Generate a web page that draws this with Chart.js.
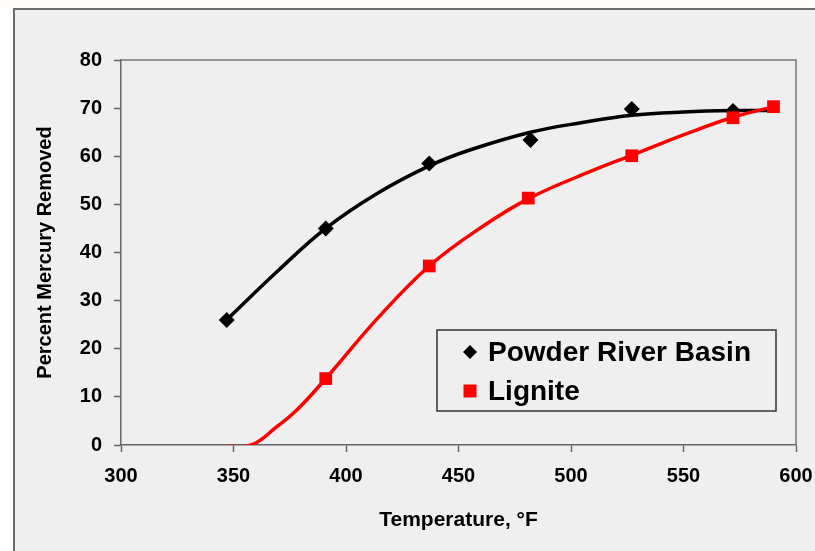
<!DOCTYPE html>
<html>
<head>
<meta charset="utf-8">
<script src="https://cdn.jsdelivr.net/npm/chart.js@4.4.0/dist/chart.umd.min.js"></script>
<style>
  html, body { margin: 0; padding: 0; background: #fffdfb; overflow: hidden; }
  #frame {
    position: absolute; left: 13px; top: 8px; width: 820px; height: 560px;
    background: #efefef; border-left: 2px solid #6b6b6b; border-top: 2px solid #6b6b6b;
  }
  #wrap { position: absolute; left: 0; top: 0; width: 815px; height: 551px; }
</style>
</head>
<body>
<div id="frame"></div>
<div id="wrap"><canvas id="myChart" width="815" height="551"></canvas></div>
<script>
// Powder River Basin measured points
const prbTemp = [347, 391, 437, 482, 527, 572];
const prbRemoval = [26, 45, 58.5, 63.4, 69.8, 69.4];

// Powder River Basin trend line
const trendTemp = [347, 370, 391, 414, 437, 455, 482, 505, 527, 550, 572, 590];
const trendRemoval = [26, 36.3, 45, 52.3, 58, 61.3, 65, 67, 68.5, 69.2, 69.5, 69.5];

// Lignite points (first one sits just under the axis)
const ligniteTemp = [347, 391, 437, 481, 527, 572, 590];
const ligniteRemoval = [-1.5, 13.8, 37.2, 51.3, 60.1, 68.0, 70.3];

// Lignite smoothed line
const ligCurveTemp = [347, 358, 369, 378, 391, 414, 437, 460, 482, 510, 527, 552, 572, 590];
const ligCurveRemoval = [-0.3, 0, 3.7, 7.2, 13.8, 26.3, 37.2, 45.2, 51.4, 57.1, 60.2, 64.8, 68.1, 70.3];

const xTicks = [300, 350, 400, 450, 500, 550, 600];
const yTicks = [0, 10, 20, 30, 40, 50, 60, 70, 80];

const FONT = '"Liberation Sans", Arial, sans-serif';

function toPoints(xs, ys){
    return xs.map((x, i) => ({x: x, y: ys[i]}));
}

// box around the plot (top + right sides)
const plotBox = {
    id: 'plotBox',
    beforeDatasetsDraw(chart){
        const a = chart.chartArea;
        const ctx = chart.ctx;
        ctx.save();
        ctx.strokeStyle = '#777';
        ctx.lineWidth = 1.5;
        ctx.beginPath();
        ctx.moveTo(a.left, a.top);
        ctx.lineTo(a.right, a.top);
        ctx.lineTo(a.right, a.bottom);
        ctx.stroke();
        ctx.restore();
    }
};

// legend drawn inside the plot, boxed
const boxLegend = {
    id: 'boxLegend',
    afterDraw(chart){
        const a = chart.chartArea;
        const ctx = chart.ctx;
        const left = a.left + 316, top = a.top + 270, w = 339, h = 81;
        ctx.save();
        ctx.strokeStyle = '#333';
        ctx.lineWidth = 1.5;
        ctx.strokeRect(left, top, w, h);
        const items = chart.data.datasets.filter(d => d.legendPos != null)
            .sort((p, q) => p.legendPos - q.legendPos);
        items.forEach((d, i) => {
            const cy = top + 22 + i * 39;
            const cx = left + 33;
            ctx.fillStyle = d.backgroundColor;
            ctx.beginPath();
            if (d.pointStyle == 'rectRot'){
                ctx.moveTo(cx - 7, cy);
                ctx.lineTo(cx, cy - 7);
                ctx.lineTo(cx + 7, cy);
                ctx.lineTo(cx, cy + 7);
                ctx.closePath();
            } else {
                ctx.rect(cx - 6.5, cy - 6.5, 13, 13);
            }
            ctx.fill();
            ctx.fillStyle = '#000';
            ctx.font = 'bold 28px ' + FONT;
            ctx.textBaseline = 'middle';
            ctx.textAlign = 'left';
            ctx.fillText(d.label, left + 51, cy + 1);
        });
        ctx.restore();
    }
};

const config = {
    type: 'scatter',
    data: {
        datasets: [
            {
                label: 'Lignite',
                legendPos: 1,
                data: toPoints(ligniteTemp, ligniteRemoval),
                showLine: false,
                backgroundColor: '#ff0000',
                borderColor: '#ff0000',
                pointStyle: 'rect',
                pointRadius: 9,
                pointBorderWidth: 0,
                clip: 0,
                order: 0
            },
            {
                label: 'Lignite curve',
                data: toPoints(ligCurveTemp, ligCurveRemoval),
                showLine: true,
                tension: 0.4,
                borderColor: '#ff0000',
                backgroundColor: '#ff0000',
                borderWidth: 3.5,
                pointRadius: 0,
                clip: 0,
                order: 1
            },
            {
                label: 'Powder River Basin',
                legendPos: 0,
                data: toPoints(prbTemp, prbRemoval),
                showLine: false,
                backgroundColor: '#000000',
                borderColor: '#000000',
                pointStyle: 'rectRot',
                pointRadius: 8,
                pointBorderWidth: 0,
                order: 2
            },
            {
                label: 'PRB trend',
                data: toPoints(trendTemp, trendRemoval),
                showLine: true,
                tension: 0.4,
                borderColor: '#000000',
                backgroundColor: '#000000',
                borderWidth: 3.5,
                pointRadius: 0,
                order: 3
            }
        ]
    },
    options: {
        responsive: false,
        animation: false,
        layout: { padding: { left: 0, top: 60, right: 19, bottom: 0 } },
        plugins: {
            legend: { display: false },
            tooltip: { enabled: false }
        },
        scales: {
            x: {
                type: 'linear',
                min: xTicks[0],
                max: xTicks[xTicks.length - 1],
                afterBuildTicks: s => { s.ticks = xTicks.map(v => ({value: v})); },
                afterFit: s => { s.height = 106; s.paddingLeft = 0; s.paddingRight = 0; },
                grid: { drawOnChartArea: false, drawTicks: true, tickLength: 7, color: '#666', tickWidth: 1.5 },
                border: { color: '#666', width: 1.5 },
                ticks: { color: '#000', padding: 12, font: { family: FONT, size: 20, weight: 'bold' } },
                title: {
                    display: true,
                    text: 'Temperature, °F',
                    color: '#000',
                    font: { family: FONT, size: 21, weight: 'bold' },
                    padding: { top: 0, bottom: 18 }
                }
            },
            y: {
                type: 'linear',
                min: yTicks[0],
                max: yTicks[yTicks.length - 1],
                afterBuildTicks: s => { s.ticks = yTicks.map(v => ({value: v})); },
                afterFit: s => { s.width = 121; s.paddingTop = 0; s.paddingBottom = 0; },
                grid: { drawOnChartArea: false, drawTicks: true, tickLength: 7, color: '#666', tickWidth: 1.5 },
                border: { color: '#666', width: 1.5 },
                ticks: { color: '#000', padding: 12, font: { family: FONT, size: 20, weight: 'bold' } },
                title: {
                    display: true,
                    text: 'Percent Mercury Removed',
                    color: '#000',
                    font: { family: FONT, size: 20, weight: 'bold' },
                    padding: { top: 33, bottom: 0 }
                }
            }
        }
    },
    plugins: [plotBox, boxLegend]
};

new Chart(document.getElementById('myChart').getContext('2d'), config);
</script>
</body>
</html>
